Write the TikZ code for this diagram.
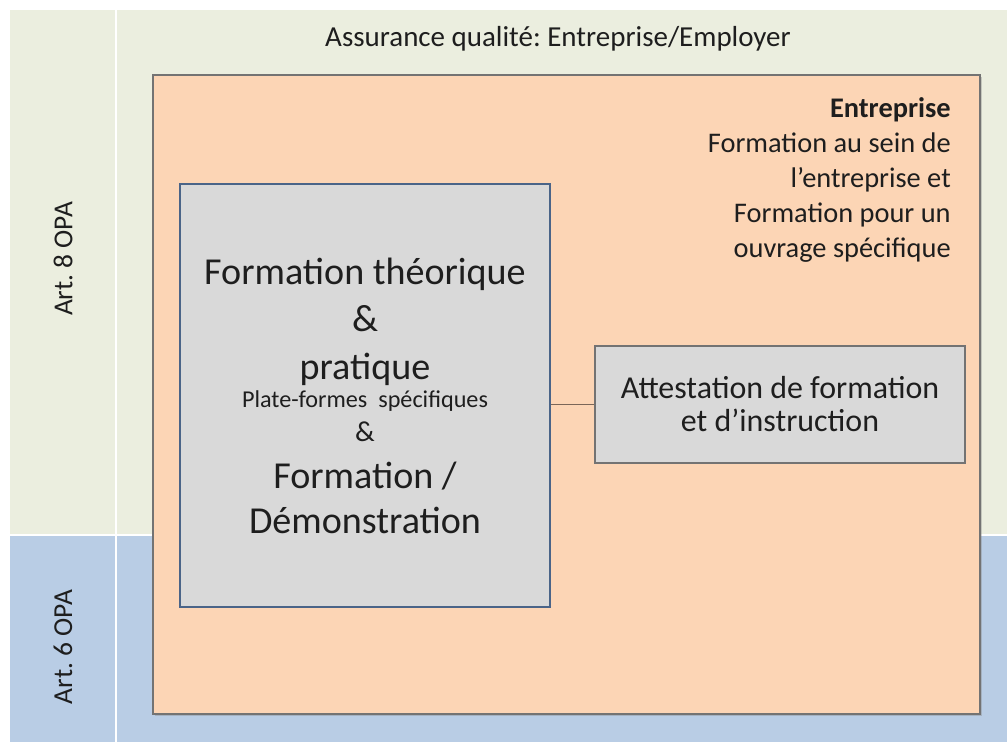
\documentclass[tikz,border=0pt]{standalone}
\usepackage{fontspec}
\setmainfont{Carlito}
\usetikzlibrary{shadows}
\frenchspacing

\definecolor{qagreen}{HTML}{EBEEDF}
\definecolor{qablue}{HTML}{B9CDE5}
\definecolor{firmpeach}{HTML}{FCD5B5}
\definecolor{boxgray}{HTML}{D9D9D9}
\definecolor{slateedge}{HTML}{4A6488}
\definecolor{inkgray}{HTML}{1E1E1E}
\definecolor{linkbrown}{HTML}{7A6658}

\begin{document}
\begin{tikzpicture}[x=0.025cm, y=-0.025cm,
    text=inkgray,
    divider/.style={white, line width=1.5pt},
    firm/.style={draw=black!55, line width=1.2pt, fill=firmpeach,
      drop shadow={shadow xshift=1.2pt, shadow yshift=-1.2pt, opacity=0.35}},
    theorybox/.style={draw=slateedge, line width=1.2pt, fill=boxgray,
      align=center, inner sep=0pt},
    attestbox/.style={draw=black!55, line width=1.2pt, fill=boxgray,
      align=center, inner sep=0pt,
      drop shadow={shadow xshift=1pt, shadow yshift=-1pt, opacity=0.3}},
    sidelabel/.style={rotate=90, font=\fontsize{19.5}{22}\selectfont}]
  \useasboundingbox (0,0) rectangle (1007,742);

  % Bands
  \fill [qagreen] (10,10) rectangle (1007,535);
  \fill [qablue] (10,535) rectangle (1007,742);
  \draw [divider] (116,10) -- (116,742);
  \draw [divider] (10,535) -- (1007,535);
  \node [sidelabel] (art8) at (63,259) {Art. 8 OPA};
  \node [sidelabel] (art6) at (63,647) {Art. 6 OPA};
  \node [font=\fontsize{20.6}{24}\selectfont] (qatitle) at (558,39)
        {Assurance qualité: Entreprise/Employer};

  % Entreprise
  \node [firm, minimum width=20.675cm, minimum height=15.975cm] (firm)
        at (566.5,394.5) {};
  \node [anchor=north east, align=right, inner sep=0pt,
         font=\fontsize{20.2}{24.9}\selectfont] (firmlabel) at (951,97)
        {\textbf{Entreprise}\\ Formation au sein de\\ l’entreprise et\\
         Formation pour un\\ ouvrage spécifique};

  % Formation
  \node [theorybox, minimum width=9.25cm, minimum height=10.575cm,
         font=\fontsize{27.1}{33}\selectfont] (theory) at (365,395.5)
        {Formation théorique\\[1pt] \&\\[1pt] pratique\\[-13pt]
         {\fontsize{17.2}{19}\selectfont Plate-formes\ \ spécifiques}\\[-9pt]
         {\fontsize{20.5}{22}\selectfont \&}\\ Formation /\\[-1pt] Démonstration};

  % Attestation
  \node [attestbox, minimum width=9.25cm, minimum height=2.925cm,
         font=\fontsize{22.7}{23.5}\selectfont] (attest) at (780,404.5)
        {Attestation de formation\\ et d’instruction};
  \draw [linkbrown, line width=0.9pt] (attest.west) -- (attest.west -| theory.east);
\end{tikzpicture}
\end{document}
